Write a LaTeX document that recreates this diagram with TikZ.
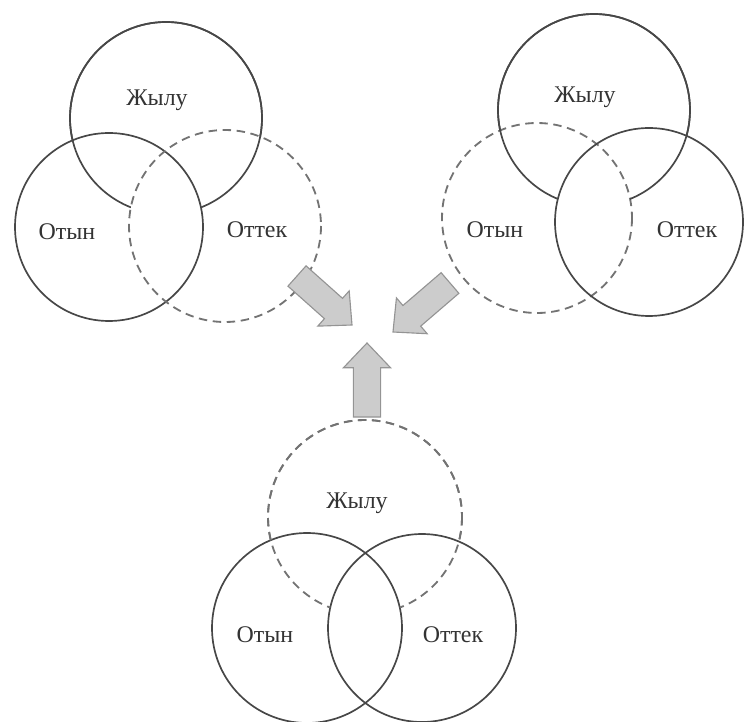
\documentclass[tikz,border=0pt]{standalone}
\usepackage{fontspec}
\setmainfont{Liberation Serif}
\usetikzlibrary{calc}

\tikzset{
  ring/.style={draw=black!72, line width=1.2pt},
  dashring/.style={draw=black!55, line width=1.3pt, dash pattern=on 6pt off 4pt},
  lbl/.style={text=black!80, font=\fontsize{17}{20}\selectfont},
  blk/.style={fill=black!20, draw=black!42, line width=0.8pt, line join=miter},
}

% block arrow from #1 (tail) to #2 (tip)
\newcommand\blockarrow[2]{%
  \coordinate (hb) at ($(#2)!0.62cm!(#1)$);
  \draw[blk] ($(#1)!0.34cm!90:(#2)$) -- ($(hb)!0.34cm!-90:(#1)$)
    -- ($(hb)!0.59cm!-90:(#1)$) -- (#2) -- ($(hb)!0.59cm!90:(#1)$)
    -- ($(hb)!0.34cm!90:(#1)$) -- ($(#1)!0.34cm!-90:(#2)$) -- cycle;}

\begin{document}
\begin{tikzpicture}[x=0.025cm, y=-0.025cm]
  \useasboundingbox (0,0) rectangle (744,722);

  % TOP LEFT: Оттек dashed
  \draw[ring] (109,227) circle (94); % Отын
  \draw[dashring] (225,226) circle (96); % Оттек
  \begin{scope}[even odd rule]
    \clip (-50,-50) rectangle (800,800) (109,227) circle (94);
    \draw[ring] (166,118) circle (96); % Жылу
  \end{scope}
  \begin{scope}[even odd rule]
    \clip (-50,-50) rectangle (800,800) (225,226) circle (96);
    \draw[ring] (166,118) circle (96);
  \end{scope}
  \node[lbl] (zhyluA) at (157,100) {Жылу};
  \node[lbl] (otynA)  at (67,232)  {Отын};
  \node[lbl] (ottekA) at (257,230) {Оттек};

  % TOP RIGHT: Отын dashed
  \draw[dashring] (537,218) circle (95); % Отын
  \draw[ring] (649,222) circle (94); % Оттек
  \begin{scope}[even odd rule]
    \clip (-50,-50) rectangle (800,800) (537,218) circle (95);
    \draw[ring] (594,110) circle (96); % Жылу
  \end{scope}
  \begin{scope}[even odd rule]
    \clip (-50,-50) rectangle (800,800) (649,222) circle (94);
    \draw[ring] (594,110) circle (96);
  \end{scope}
  \node[lbl] (zhyluB) at (585,97)  {Жылу};
  \node[lbl] (otynB)  at (495,230) {Отын};
  \node[lbl] (ottekB) at (687,230) {Оттек};

  % BOTTOM: Жылу dashed
  \draw[ring] (307,628) circle (95); % Отын
  \draw[ring] (422,628) circle (94); % Оттек
  \begin{scope}[even odd rule]
    \clip (-50,-50) rectangle (800,800) (307,628) circle (95);
    \draw[dashring] (365,517) circle (97); % Жылу
  \end{scope}
  \begin{scope}[even odd rule]
    \clip (-50,-50) rectangle (800,800) (422,628) circle (94);
    \draw[dashring] (365,517) circle (97);
  \end{scope}
  \node[lbl] (zhyluC) at (357,503) {Жылу};
  \node[lbl] (otynC)  at (265,635) {Отын};
  \node[lbl] (ottekC) at (453,635) {Оттек};

  % ARROWS
  \coordinate (tailA) at (297,276);
  \coordinate (tipA)  at (352,325);
  \coordinate (tailB) at (450,283);
  \coordinate (tipB)  at (393,332);
  \coordinate (tailC) at (367,417);
  \coordinate (tipC)  at (367,343);
  \blockarrow{tailA}{tipA}
  \blockarrow{tailB}{tipB}
  \blockarrow{tailC}{tipC}
\end{tikzpicture}
\end{document}
